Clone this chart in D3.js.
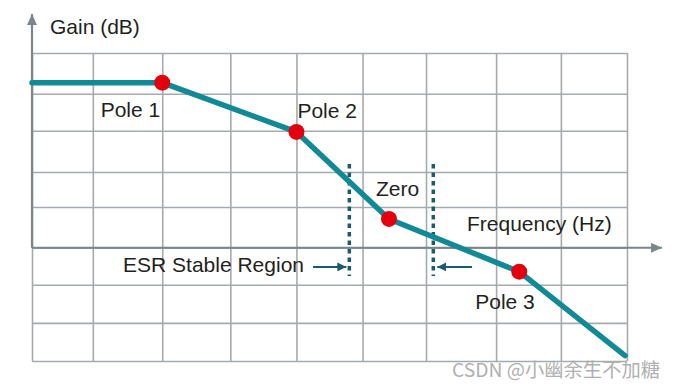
<!DOCTYPE html>
<html>
<head>
<meta charset="utf-8">
<script src="https://cdn.jsdelivr.net/npm/d3@7"></script>
<style>
  html, body { margin: 0; padding: 0; background: #fff; }
  svg text { font-family: "Liberation Sans", Arial, Helvetica, sans-serif; }
</style>
</head>
<body>
<div id="chart"></div>
<script>
// grid line positions (in grid units)
const xGrid = [0, 0.92, 1.97, 3, 4, 5, 5.96, 7.02, 8, 9];
const yGrid = [5.06, 4, 3.04, 1.97, 1.06, 0, -0.96, -1.95, -2.94];

// asymptotic response curve
const freq = [0, 1.97, 4.0, 5.4, 7.37, 8.97];
const gain = [4.29, 4.29, 3.01, 0.75, -0.62, -2.8];
const pointNames = ['', 'Pole 1', 'Pole 2', 'Zero', 'Pole 3', ''];

// ESR stable region bounds
const esrBounds = [4.8, 6.07];
const esrSpan = [2.18, -0.73];

const axisTitles = ['Frequency (Hz)', 'Gain (dB)'];
const regionLabel = 'ESR Stable Region';
const watermark = 'CSDN @小幽余生不加糖';

const W = 677, H = 388;
const svg = d3.select('#chart').append('svg')
  .attr('width', W).attr('height', H);

const x = d3.scaleLinear().domain([0, 9]).range([32, 627]);
const y = d3.scaleLinear().domain([-2.94, 5.06]).range([361, 53]);

const defs = svg.append('defs');
function marker(id, color, len, half) {
  defs.append('marker')
    .attr('id', id)
    .attr('viewBox', `0 0 ${len} ${half * 2}`)
    .attr('refX', len).attr('refY', half)
    .attr('markerUnits', 'userSpaceOnUse')
    .attr('markerWidth', len).attr('markerHeight', half * 2)
    .attr('orient', 'auto')
    .append('path')
    .attr('d', `M0,0L${len},${half}L0,${half * 2}Z`)
    .attr('fill', color);
}
marker('axisArrow', '#7b858c', 11, 5);
marker('esrArrow', '#1c5c6a', 9, 4.5);

// grid
const gridColor = '#a5aaaf';
const gx = svg.append('g')
  .attr('transform', `translate(0,${y(yGrid[yGrid.length - 1])})`)
  .call(d3.axisBottom(x).tickValues(xGrid).tickSize(-(y(yGrid[yGrid.length - 1]) - y(yGrid[0]))).tickFormat(''));
const gy = svg.append('g')
  .attr('transform', `translate(${x(xGrid[0])},0)`)
  .call(d3.axisLeft(y).tickValues(yGrid).tickSize(-(x(xGrid[xGrid.length - 1]) - x(xGrid[0]))).tickFormat(''));
[gx, gy].forEach(g => {
  g.select('.domain').remove();
  g.selectAll('line').attr('stroke', gridColor).attr('stroke-width', 1.6);
});

// axes with arrows
svg.append('line')
  .attr('x1', x(0)).attr('x2', x(9.53))
  .attr('y1', y(0)).attr('y2', y(0))
  .attr('stroke', '#7b858c').attr('stroke-width', 2)
  .attr('marker-end', 'url(#axisArrow)');
svg.append('line')
  .attr('x1', x(0)).attr('x2', x(0))
  .attr('y1', y(0)).attr('y2', y(6.07))
  .attr('stroke', '#7b858c').attr('stroke-width', 2.2)
  .attr('marker-end', 'url(#axisArrow)');

// ESR region dashed bounds
svg.selectAll('.esr')
  .data(esrBounds)
  .enter().append('line')
  .attr('x1', d => x(d)).attr('x2', d => x(d))
  .attr('y1', y(esrSpan[0])).attr('y2', y(esrSpan[1]))
  .attr('stroke', '#1c5c6a').attr('stroke-width', 3.5)
  .attr('stroke-dasharray', '4.5,4');

// response line
const pts = freq.map((f, i) => ({ f, g: gain[i], name: pointNames[i] }));
svg.append('path')
  .datum(pts)
  .attr('d', d3.line().x(d => x(d.f)).y(d => y(d.g)))
  .attr('fill', 'none')
  .attr('stroke', '#128a95')
  .attr('stroke-width', 5.5)
  .attr('stroke-linecap', 'round')
  .attr('stroke-linejoin', 'round');

const named = pts.filter(d => d.name);
svg.selectAll('.dot')
  .data(named)
  .enter().append('circle')
  .attr('cx', d => x(d.f)).attr('cy', d => y(d.g))
  .attr('r', 8)
  .attr('fill', '#e2000f');

// point labels
const labelPlace = {
  'Pole 1': { dx: -2, dy: 34, anchor: 'end' },
  'Pole 2': { dx: 1, dy: -14, anchor: 'start' },
  'Zero': { dx: -13, dy: -23, anchor: 'start' },
  'Pole 3': { dx: -44, dy: 37, anchor: 'start' }
};
svg.selectAll('.lbl')
  .data(named)
  .enter().append('text')
  .attr('x', d => x(d.f) + labelPlace[d.name].dx)
  .attr('y', d => y(d.g) + labelPlace[d.name].dy)
  .attr('text-anchor', d => labelPlace[d.name].anchor)
  .attr('font-size', 21)
  .attr('fill', '#231f20')
  .text(d => d.name);

// axis titles
svg.append('text')
  .attr('x', 50).attr('y', 34)
  .attr('font-size', 21).attr('fill', '#231f20')
  .text(axisTitles[1]);
svg.append('text')
  .attr('x', 467).attr('y', 231)
  .attr('font-size', 21).attr('fill', '#231f20')
  .text(axisTitles[0]);

// ESR label and arrows
const arrowY = y(esrSpan[1]) - 9;
svg.append('text')
  .attr('x', 304).attr('y', 272)
  .attr('text-anchor', 'end')
  .attr('font-size', 21).attr('fill', '#231f20')
  .text(regionLabel);
svg.append('line')
  .attr('x1', 313).attr('x2', x(esrBounds[0]) - 3)
  .attr('y1', arrowY).attr('y2', arrowY)
  .attr('stroke', '#1c5c6a').attr('stroke-width', 2)
  .attr('marker-end', 'url(#esrArrow)');
svg.append('line')
  .attr('x1', 472).attr('x2', x(esrBounds[1]) + 4)
  .attr('y1', arrowY).attr('y2', arrowY)
  .attr('stroke', '#1c5c6a').attr('stroke-width', 2)
  .attr('marker-end', 'url(#esrArrow)');

// watermark
svg.append('text')
  .attr('x', 452).attr('y', 377)
  .attr('font-size', 19)
  .attr('textLength', 208)
  .attr('lengthAdjust', 'spacingAndGlyphs')
  .attr('fill', '#b0b0b0')
  .style('font-family', '"Noto Sans CJK SC", "Liberation Sans", sans-serif')
  .text(watermark);
</script>
</body>
</html>
